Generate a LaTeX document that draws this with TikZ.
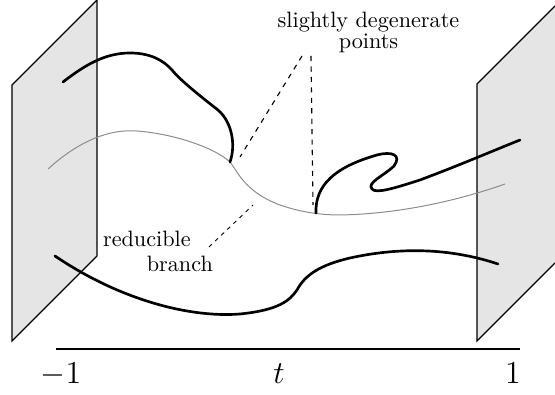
\documentclass[tikz,border=0pt]{standalone}
\begin{document}
\begin{tikzpicture}[x=0.45pt,y=-0.45pt,
  plane/.style={fill=black!10},
  edge/.style={line width=0.5pt, line join=miter},
  curve/.style={line width=1.2pt, line join=round, line cap=round},
  faint/.style={black!45, line width=0.45pt},
  lead/.style={line width=0.5pt, dash pattern=on 2.3pt off 2.4pt},
  fine/.style={line width=0.4pt, dash pattern=on 1.8pt off 2pt},
  lbl/.style={font=\Large, anchor=base, inner sep=0pt},
  txt/.style={inner sep=0pt}]
\useasboundingbox (0,0) rectangle (555,395);
% left plane
\fill[plane] (12,85) -- (97,0) -- (97,256) -- (12,341) -- cycle;
\draw[edge] (12,85) -- (97,0) -- (97,256) -- (12,341) -- cycle;
% right plane
\fill[plane] (477,84) -- (555,6) -- (555,263) -- (477,341) -- cycle;
\draw[edge] (555,6) -- (477,84) -- (477,341) -- (555,263);
% gray curve
\draw[faint] (48,169) .. controls (80,140) and (110,129) .. (137,131)
  .. controls (175,134) and (215,148) .. (230,162)
  .. controls (238,172) and (245,192) .. (280,205)
  .. controls (300,212) and (320,215) .. (340,215)
  .. controls (400,214) and (460,200) .. (505,184);
% black curve 1
\draw[curve] (63,82) .. controls (85,65) and (105,53) .. (130,53)
  .. controls (150,53) and (163,60) .. (172,70)
  .. controls (180,80) and (200,96) .. (218,110)
  .. controls (232,122) and (236,145) .. (230,162);
% black curve 2
\draw[curve] (316,213) .. controls (315,185) and (335,167) .. (377,155)
  .. controls (392,151) and (402,155) .. (394,166)
  .. controls (385,175) and (366,183) .. (372,189)
  .. controls (376,194) and (395,188) .. (420,180)
  .. controls (460,165) and (490,152) .. (520,140);
% black curve 3
\draw[curve] (55,256) .. controls (120,300) and (190,318) .. (240,314)
  .. controls (280,310) and (290,300) .. (297,290)
  .. controls (305,275) and (320,265) .. (350,258)
  .. controls (400,247) and (450,248) .. (498,264);
% axis
\coordinate (axl) at (56,349);
\coordinate (axr) at (520,349);
\draw[line width=0.6pt] (axl) -- (axr);
\node[lbl] (lm) at (61,384) {$-1$};
\node[lbl] (lt) at (279,384) {$t$};
\node[lbl] (lp) at (513,384) {$1$};
% labels
\node[txt, align=center] (sd) at (368.5,32.5) {slightly degenerate\\[-2.6pt]points};
\node[txt, align=left] (rb) at (158,251) {reducible\\[-0.8pt]\hspace*{19.7pt}branch};
\coordinate (a1) at (302,56);
\coordinate (a2) at (240,157);
\coordinate (b1) at (311,56);
\coordinate (b2) at (313,205);
\coordinate (c1) at (209,247);
\coordinate (c2) at (253,205);
\draw[lead] (a1) -- (a2);
\draw[lead] (b1) -- (b2);
\draw[fine] (c1) -- (c2);
\end{tikzpicture}
\end{document}
